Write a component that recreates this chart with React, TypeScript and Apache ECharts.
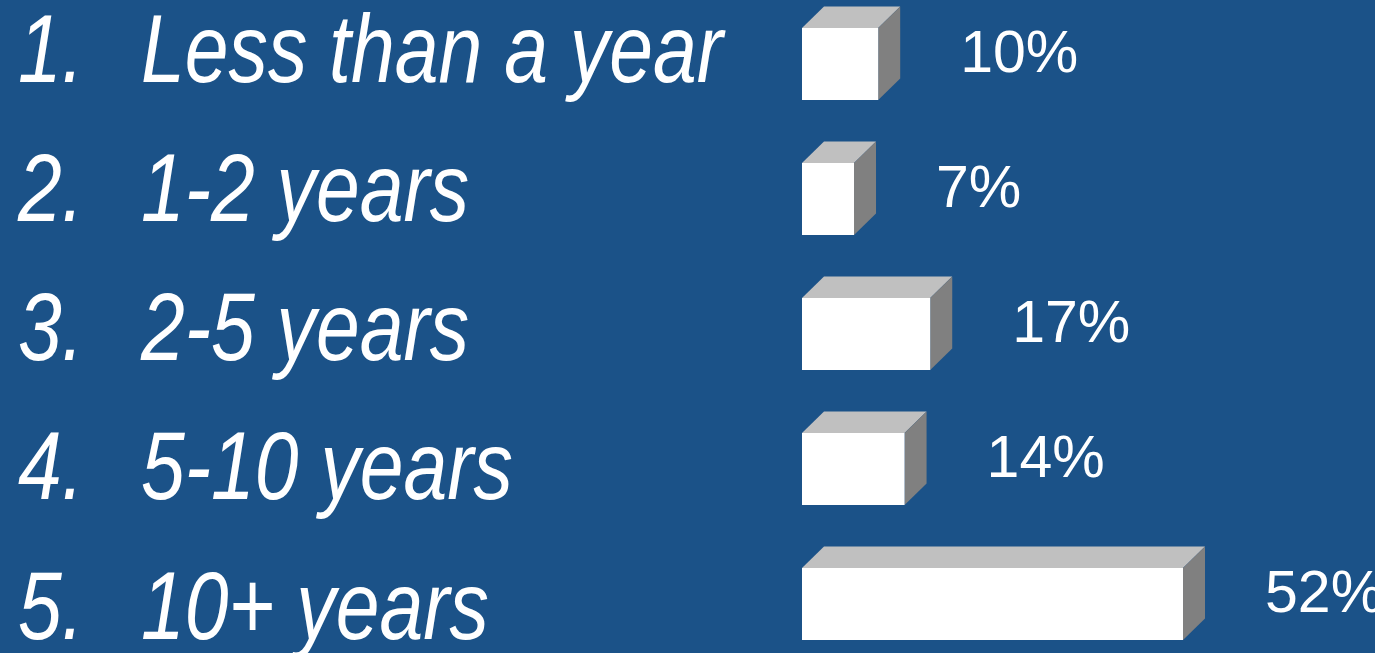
import React, { useEffect, useRef } from "react";
import * as echarts from "echarts";

const categories = ["Less than a year", "1-2 years", "2-5 years", "5-10 years", "10+ years"];
const values = [10.4, 7.1, 17.5, 14.0, 52.0];
const valueLabels = ["10%", "7%", "17%", "14%", "52%"];

const BG = "#1B5288";
const FONT = "'Liberation Sans', Arial, Helvetica, sans-serif";
const OFFSET = 40;

export default function App() {
  const ref = useRef<HTMLDivElement>(null);
  useEffect(() => {
    if (!ref.current) return;
    const chart = echarts.init(ref.current, undefined, { renderer: "svg" });
    const dx = 22;
    const dy = 21.5;
    const option: any = {
      animation: false,
      backgroundColor: BG,
      grid: [
        { left: 802, top: OFFSET - 3.5, width: 60 * 7.327, height: 675, containLabel: false },
        { left: 0, top: OFFSET - 20.6, width: 1375, height: 696, containLabel: false },
      ],
      xAxis: [
        { type: "value", gridIndex: 0, min: 0, max: 60, show: false },
        { type: "value", gridIndex: 1, min: 0, max: 1375, show: false },
      ],
      yAxis: [
        { type: "category", gridIndex: 0, data: categories, inverse: true, show: false },
        { type: "category", gridIndex: 1, data: categories, inverse: true, show: false },
      ],
      series: [
        {
          type: "custom",
          xAxisIndex: 0,
          yAxisIndex: 0,
          data: values.map((v, i) => [v, i]),
          encode: { x: 0, y: 1 },
          renderItem: (params: any, api: any) => {
            const v = api.value(0);
            const c = api.value(1);
            const p0 = api.coord([0, c]);
            const p1 = api.coord([v, c]);
            const h = api.size([0, 1])[1] * 0.533;
            const x0 = p0[0];
            const x1 = p1[0];
            const yc = p0[1];
            const yt = yc - h / 2;
            const yb = yc + h / 2;
            return {
              type: "group",
              children: [
                {
                  type: "polygon",
                  shape: { points: [[x0, yt], [x0 + dx, yt - dy], [x1 + dx, yt - dy], [x1, yt]] },
                  style: { fill: "#C0C0C0" },
                },
                {
                  type: "polygon",
                  shape: { points: [[x1, yt], [x1 + dx, yt - dy], [x1 + dx, yb - dy], [x1, yb]] },
                  style: { fill: "#808080" },
                },
                {
                  type: "rect",
                  shape: { x: x0, y: yt, width: x1 - x0, height: h },
                  style: { fill: "#FFFFFF" },
                },
                {
                  type: "text",
                  x: x1 + 82,
                  y: yc - dy / 2 - 1,
                  style: {
                    text: valueLabels[params.dataIndex],
                    fill: "#FFFFFF",
                    fontSize: 59,
                    fontFamily: FONT,
                    align: "left",
                    verticalAlign: "middle",
                  },
                },
              ],
            };
          },
        },
        {
          type: "custom",
          xAxisIndex: 1,
          yAxisIndex: 1,
          data: categories.map((_, i) => [0, i]),
          encode: { x: 0, y: 1 },
          renderItem: (params: any, api: any) => {
            const c = api.value(1);
            const pNum = api.coord([18, c]);
            const pTxt = api.coord([141, c]);
            const common = {
              fill: "#FFFFFF",
              fontSize: 96,
              fontStyle: "italic",
              fontFamily: FONT,
              align: "left",
              verticalAlign: "middle",
            };
            return {
              type: "group",
              children: [
                {
                  type: "text",
                  x: pNum[0],
                  y: pNum[1],
                  scaleX: 0.82,
                  style: { ...common, text: `${params.dataIndex + 1}.` },
                },
                {
                  type: "text",
                  x: pTxt[0],
                  y: pTxt[1],
                  scaleX: 0.82,
                  style: { ...common, text: categories[params.dataIndex] },
                },
              ],
            };
          },
        },
      ],
    };
    chart.setOption(option);
    return () => chart.dispose();
  }, []);
  return (
    <div
      ref={ref}
      style={{ position: "fixed", left: 0, top: -OFFSET, width: 1375, height: 653 + 2 * OFFSET, background: BG }}
    />
  );
}
